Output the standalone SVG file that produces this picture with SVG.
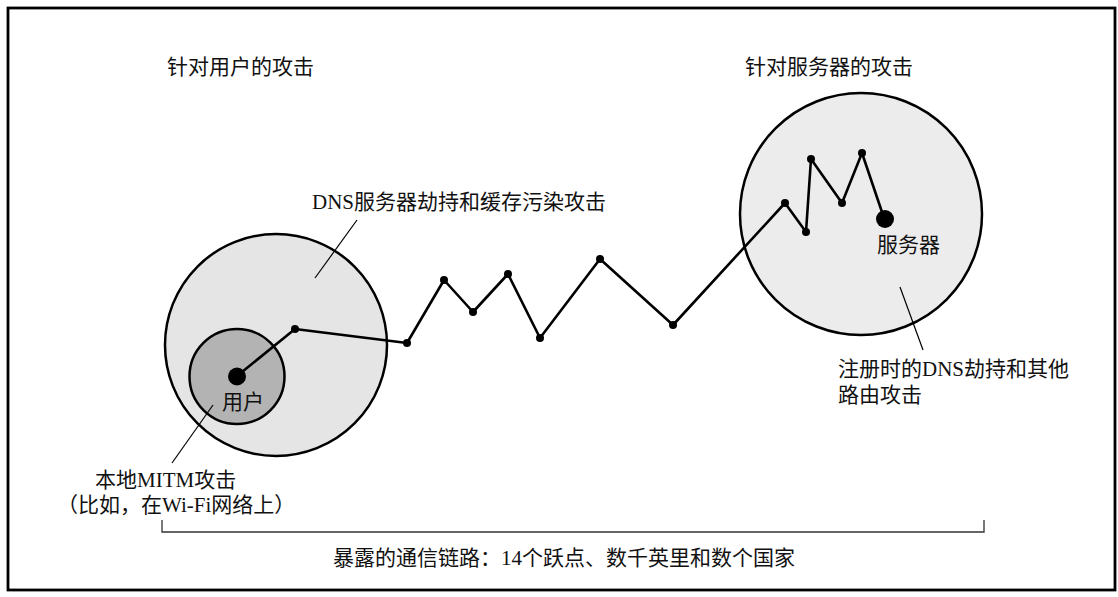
<svg xmlns="http://www.w3.org/2000/svg" width="1118" height="597" viewBox="0 0 1118 597">
  <style>
    .t { font-family: "Liberation Serif", "Noto Sans CJK SC", serif; font-size: 21px; fill: #111; }
    .ring { stroke: #000; stroke-width: 2.5; }
    .link { fill: none; stroke: #000; stroke-width: 2.6; stroke-linejoin: round; }
    .hop { fill: #000; }
    .lead { fill: none; stroke: #000; stroke-width: 1.2; }
  </style>
  <rect x="0" y="0" width="1118" height="597" fill="#fff"/>
  <rect x="8" y="8" width="1107" height="582" fill="none" stroke="#000" stroke-width="2.8"/>

  <text class="t" x="167" y="74">针对用户的攻击</text>
  <text class="t" x="745" y="74">针对服务器的攻击</text>

  <g id="dns-zone">
    <circle class="ring" cx="276" cy="345" r="111" fill="#e5e5e5"/>
    <text class="t" x="312" y="209">DNS服务器劫持和缓存污染攻击</text>
    <line class="lead" x1="357" y1="220" x2="315" y2="278"/>
  </g>

  <g id="server-zone">
    <circle class="ring" cx="861" cy="214" r="121" fill="#ececec"/>
    <line class="lead" x1="900" y1="287" x2="923" y2="350"/>
    <text class="t" x="838" y="376">注册时的DNS劫持和其他</text>
    <text class="t" x="838" y="402">路由攻击</text>
  </g>

  <g id="local-zone">
    <circle class="ring" cx="237" cy="376.5" r="47.5" fill="#b3b3b3"/>
    <line class="lead" x1="213" y1="405" x2="172" y2="463"/>
    <text class="t" x="95" y="487">本地MITM攻击</text>
    <text class="t" x="57" y="512">（比如，在Wi-Fi网络上）</text>
  </g>

  <g id="connectors">
    <polyline class="link" points="237,376 295,329 407,343 444,280 473,312 508,274 540,338 600,259 673,325 785,203 806,232 811,159 842,203 862,153 884,218"/>
  </g>

  <g id="hops">
    <circle class="hop" cx="295" cy="329" r="4"/>
    <circle class="hop" cx="407" cy="343" r="4"/>
    <circle class="hop" cx="444" cy="280" r="4"/>
    <circle class="hop" cx="473" cy="312" r="4"/>
    <circle class="hop" cx="508" cy="274" r="4"/>
    <circle class="hop" cx="540" cy="338" r="4"/>
    <circle class="hop" cx="600" cy="259" r="4"/>
    <circle class="hop" cx="673" cy="325" r="4"/>
    <circle class="hop" cx="785" cy="203" r="4"/>
    <circle class="hop" cx="806" cy="232" r="4"/>
    <circle class="hop" cx="811" cy="159" r="4"/>
    <circle class="hop" cx="842" cy="203" r="4"/>
    <circle class="hop" cx="862" cy="153" r="4"/>
  </g>

  <g id="user">
    <circle class="hop" cx="237" cy="376.5" r="9"/>
    <text class="t" x="222" y="409">用户</text>
  </g>

  <g id="server">
    <circle class="hop" cx="885" cy="219" r="9"/>
    <text class="t" x="877" y="252">服务器</text>
  </g>

  <g id="span">
    <path d="M162,520 V532 H984 V520" fill="none" stroke="#333" stroke-width="1.3"/>
    <text class="t" x="333" y="565">暴露的通信链路：14个跃点、数千英里和数个国家</text>
  </g>
</svg>
